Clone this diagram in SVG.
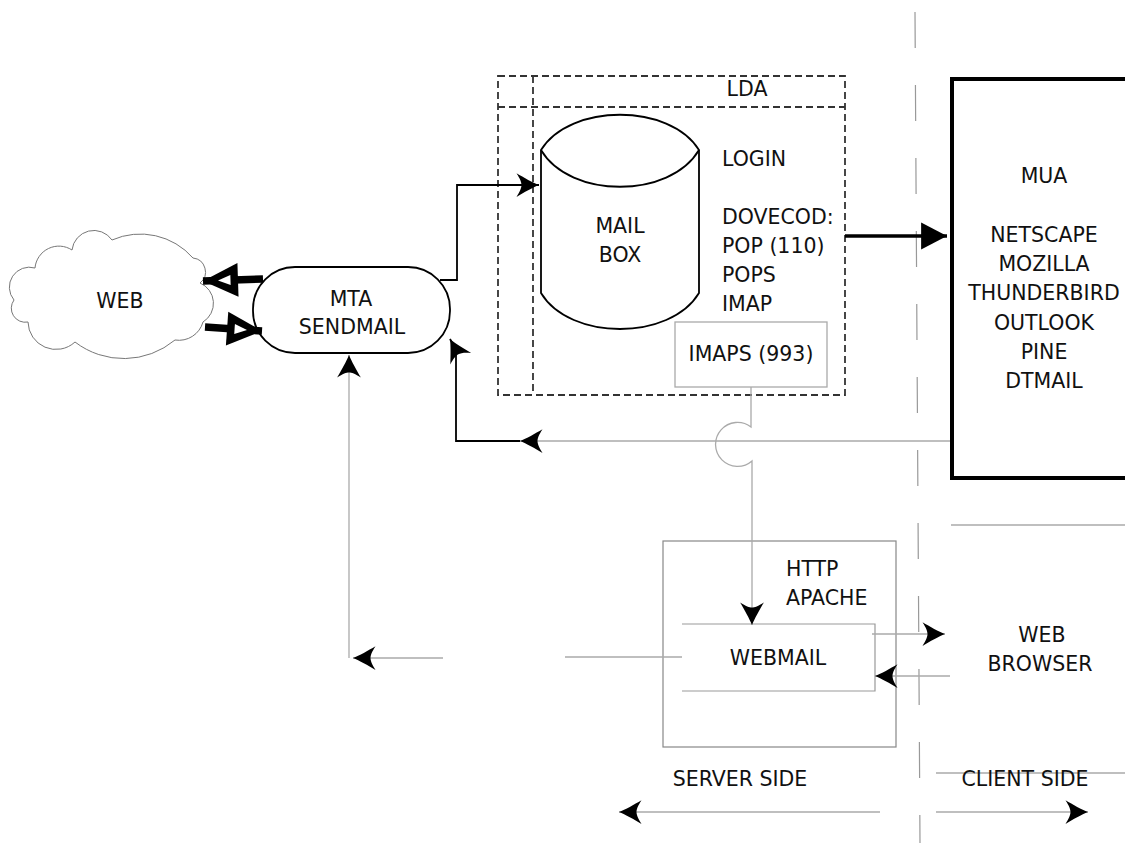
<svg xmlns="http://www.w3.org/2000/svg" width="1125" height="843" viewBox="0 0 1125 843">
<style>
.t{font-family:"DejaVu Sans","Liberation Sans",sans-serif;font-size:20.5px;fill:#111}
.c{text-anchor:middle}
.dash{fill:none;stroke:#333;stroke-width:1.8;stroke-dasharray:7 4}
.gray{fill:none;stroke:#aaa;stroke-width:1.3}
.blk{fill:none;stroke:#000;stroke-width:1.8}
.thick{fill:none;stroke:#000;stroke-width:7.5}
</style>
<defs>
<marker id="ah" markerUnits="userSpaceOnUse" orient="auto" refX="0" refY="0" markerWidth="30" markerHeight="30" viewBox="-20 -12 22 24" overflow="visible">
<path d="M0,0 C-5,-2 -12,-6 -18,-9.5 C-15,-5 -14,-2 -14,0 C-14,2 -15,5 -18,9.5 C-12,6 -5,2 0,0 Z" fill="#000"/>
</marker>
<marker id="big" markerUnits="userSpaceOnUse" orient="auto" refX="0" refY="0" markerWidth="30" markerHeight="30" viewBox="-27 -14 29 28" overflow="visible">
<path d="M0,0 L-25,-13 L-25,13 Z" fill="#000"/>
</marker>
<marker id="hollow" markerUnits="userSpaceOnUse" orient="auto" refX="0" refY="0" markerWidth="40" markerHeight="40" viewBox="-30 -15 32 30" overflow="visible">
<path d="M0,0 L-28,-13.5 L-28,13.5 Z" fill="#000"/>
<path d="M-12,0 L-22,-4 L-22,4 Z" fill="#fff"/>
</marker>
</defs>
<rect width="1125" height="843" fill="#fff"/>

<g id="divider">
<path d="M915,12 L920,843" fill="none" stroke="#999" stroke-width="1.2" stroke-dasharray="36 37"/>
<path class="gray" d="M951,525 H1125"/>
<path class="gray" d="M936,773 H1125"/>
</g>

<g id="web">
<path d="M14,300 A20,20 0 0 1 35,268 A24,24 0 0 1 72,250 A22,22 0 0 1 112,240 A70,70 0 0 1 193,258 A14,14 0 0 1 200,283 A22,22 0 0 1 203,322 A25,25 0 0 1 175,340 A80,80 0 0 1 75,342 A28,28 0 0 1 28,322 A14,14 0 0 1 14,300 Z" fill="#fff" stroke="#777" stroke-width="1"/>
<text class="t c" x="120" y="308">WEB</text>
</g>

<g id="mta">
<rect x="253" y="267" width="197" height="86" rx="42" ry="42" fill="#fff" stroke="#000" stroke-width="1.8"/>
<text class="t c" x="351" y="306">MTA</text>
<text class="t c" x="352" y="334">SENDMAIL</text>
</g>

<g id="lda">
<rect class="dash" x="498" y="76" width="347" height="319"/>
<path class="dash" d="M498,107 H845"/>
<path class="dash" d="M533,76 V395"/>
<text class="t c" x="747" y="96">LDA</text>
<text class="t" x="722" y="166">LOGIN</text>
<text class="t" x="722" y="224">DOVECOD:</text>
<text class="t" x="722" y="253">POP (110)</text>
<text class="t" x="722" y="282">POPS</text>
<text class="t" x="722" y="311">IMAP</text>
</g>

<g id="mailbox">
<path d="M541,150 C570,103 670,103 699,150 V293 C670,341 570,341 541,293 Z" fill="#fff" stroke="#000" stroke-width="1.8"/>
<path d="M541,150 C570,199 670,199 699,150" fill="none" stroke="#000" stroke-width="1.8"/>
<text class="t c" x="620" y="233">MAIL</text>
<text class="t c" x="620" y="262">BOX</text>
</g>

<g id="imaps">
<rect x="675" y="322" width="152" height="65" fill="#fff" stroke="#aaa" stroke-width="1.3"/>
<text class="t c" x="751" y="361">IMAPS (993)</text>
</g>

<g id="mua">
<rect x="952" y="79" width="200" height="399" fill="#fff" stroke="#000" stroke-width="4"/>
<text class="t c" x="1044" y="183">MUA</text>
<text class="t c" x="1044" y="242">NETSCAPE</text>
<text class="t c" x="1044" y="271">MOZILLA</text>
<text class="t c" x="1044" y="300">THUNDERBIRD</text>
<text class="t c" x="1044" y="330">OUTLOOK</text>
<text class="t c" x="1044" y="359">PINE</text>
<text class="t c" x="1044" y="388">DTMAIL</text>
</g>

<g id="http">
<rect x="663" y="541" width="233" height="206" fill="none" stroke="#888" stroke-width="1.2"/>
<text class="t" x="786" y="576">HTTP</text>
<text class="t" x="786" y="605">APACHE</text>
</g>

<g id="webmail">
<path d="M682,624 H875 V691 H682" fill="#fff" stroke="#999" stroke-width="1.2"/>
<text class="t c" x="778" y="665">WEBMAIL</text>
</g>

<g id="browser">
<text class="t c" x="1042" y="642">WEB</text>
<text class="t c" x="1040" y="671">BROWSER</text>
</g>

<g id="sides">
<text class="t c" x="740" y="786">SERVER SIDE</text>
<text class="t c" x="1025" y="786">CLIENT SIDE</text>
</g>

<g id="connectors">
<path class="thick" d="M263,279 L203,281" marker-end="url(#hollow)"/>
<path class="thick" d="M205,327 L262,331" marker-end="url(#hollow)"/>
<path class="blk" d="M440,280 H457 V185 H539" marker-end="url(#ah)"/>
<path d="M845,236 H947" fill="none" stroke="#000" stroke-width="3.5" marker-end="url(#big)"/>
<path class="gray" d="M950,441 H520" marker-end="url(#ah)"/>
<path class="blk" d="M520,441 H456 V350 L450,339" marker-end="url(#ah)"/>
<path class="gray" d="M349,658 V355" marker-end="url(#ah)"/>
<path class="gray" d="M443,658 H353" marker-end="url(#ah)"/>
<path class="gray" d="M565,657 H682"/>
<path class="gray" d="M751,387 V427 A22,22 0 1 0 752,461 V625" marker-end="url(#ah)"/>
<path class="gray" d="M872,634 H945" marker-end="url(#ah)"/>
<path class="gray" d="M950,676 H875" marker-end="url(#ah)"/>
<path class="gray" d="M880,812 H619" marker-end="url(#ah)"/>
<path class="gray" d="M936,812 H1088" marker-end="url(#ah)"/>
</g>
</svg>
